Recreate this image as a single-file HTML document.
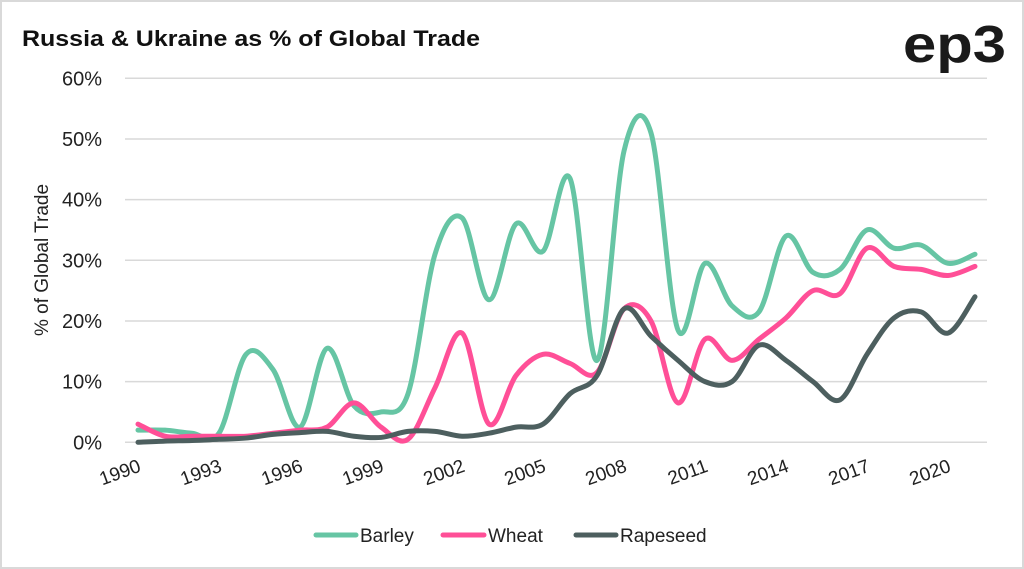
<!DOCTYPE html>
<html><head><meta charset="utf-8"><style>
html,body{margin:0;padding:0;background:#fff}
svg{display:block;font-family:"Liberation Sans",sans-serif}
</style></head><body>
<svg id="chart" width="1024" height="569" viewBox="0 0 1024 569">
<rect x="1" y="1" width="1022" height="567" fill="#fff" stroke="#d9d9d9" stroke-width="2"/>
<text x="22" y="46" font-size="22" font-weight="bold" fill="#111" textLength="458" lengthAdjust="spacingAndGlyphs">Russia &amp; Ukraine as % of Global Trade</text>
<text x="903" y="62" font-size="52" font-weight="bold" fill="#1a1a1a" textLength="103" lengthAdjust="spacingAndGlyphs">ep3</text>
<text transform="translate(48,260) rotate(-90)" text-anchor="middle" font-size="19" fill="#222">% of Global Trade</text>
<g id="grid"></g><g id="series"></g><g id="xlabels"></g>
<g>
<line x1="316" y1="535" x2="356" y2="535" stroke="#66c5a4" stroke-width="5" stroke-linecap="round"/>
<text x="360" y="542" font-size="19" fill="#222">Barley</text>
<line x1="443" y1="535" x2="484" y2="535" stroke="#ff4f97" stroke-width="5" stroke-linecap="round"/>
<text x="488" y="542" font-size="19" fill="#222">Wheat</text>
<line x1="576" y1="535" x2="616" y2="535" stroke="#4d5f5f" stroke-width="5" stroke-linecap="round"/>
<text x="620" y="542" font-size="19" fill="#222">Rapeseed</text>
</g>
</svg>
<script>
const years=[1990,1991,1992,1993,1994,1995,1996,1997,1998,1999,2000,2001,2002,2003,2004,2005,2006,2007,2008,2009,2010,2011,2012,2013,2014,2015,2016,2017,2018,2019,2020,2021];
const barley=[2,2,1.5,1.5,14.5,12,2.5,15.5,6,5,8,31,37,23.5,36,31.5,43.5,13.5,48,51,18.5,29.5,22.5,21.5,34,28,28.5,35,32,32.5,29.5,31];
const wheat=[3,1,1,1,1,1.5,2,2.5,6.5,2.5,0.5,9,18,3,11,14.5,13,11.5,22,20,6.5,17,13.5,17,20.5,25,24.5,32,29,28.5,27.5,29];
const rapeseed=[0,0.2,0.3,0.5,0.7,1.3,1.6,1.8,1,0.8,1.8,1.8,1,1.5,2.5,3,8,11,22,17.5,13.5,10,10,16,13.5,10,7,14.5,20.5,21.5,18,24];
const yTicks=[0,10,20,30,40,50,60];
const xTickYears=[1990,1993,1996,1999,2002,2005,2008,2011,2014,2017,2020];
const NS='http://www.w3.org/2000/svg';
const X0=125,X1=987,Y0=442.3,Y60=78.3;
function xs(y){return 138+(y-years[0])*(975-138)/(years[years.length-1]-years[0]);}
function ys(v){return Y0-(v/60)*(Y0-Y60);}
function mk(tag,attrs,parent){const e=document.createElementNS(NS,tag);for(const k in attrs)e.setAttribute(k,attrs[k]);parent.appendChild(e);return e;}
const grid=document.getElementById('grid');
yTicks.forEach(t=>{
 const l=mk('line',{x1:X0,x2:X1,y1:ys(t),y2:ys(t),stroke:'#d9d9d9','stroke-width':1.5},grid);
 
 
 const tx=mk('text',{x:102,y:ys(t)+7,'text-anchor':'end','font-size':20,fill:'#222'},grid);
 tx.textContent=t+'%';
 
 
});
const xl=document.getElementById('xlabels');
xTickYears.forEach(yr=>{
 const x=xs(yr)+4;
 const tx=mk('text',{transform:`translate(${x},471) rotate(-20)`,'text-anchor':'end','font-size':19,fill:'#222'},xl);
 tx.textContent=yr;
 
 
});
function path(vals){
 const p=vals.map((v,i)=>[xs(years[i]),ys(v)]);
 let d='M'+p[0][0]+','+p[0][1];
 for(let i=0;i<p.length-1;i++){
  const p0=p[i-1]||p[i],p1=p[i],p2=p[i+1],p3=p[i+2]||p2;
  const t=1/6;
  d+=` C${p1[0]+(p2[0]-p0[0])*t},${p1[1]+(p2[1]-p0[1])*t} ${p2[0]-(p3[0]-p1[0])*t},${p2[1]-(p3[1]-p1[1])*t} ${p2[0]},${p2[1]}`;
 }
 return d;
}
const sg=document.getElementById('series');
[[barley,'#66c5a4','barley'],[wheat,'#ff4f97','wheat'],[rapeseed,'#4d5f5f','rapeseed']].forEach(([v,c,n])=>{
 const e=mk('path',{d:path(v),fill:'none',stroke:c,'stroke-width':5,'stroke-linecap':'round','stroke-linejoin':'round'},sg);
 
 
});
</script>
</body></html>
